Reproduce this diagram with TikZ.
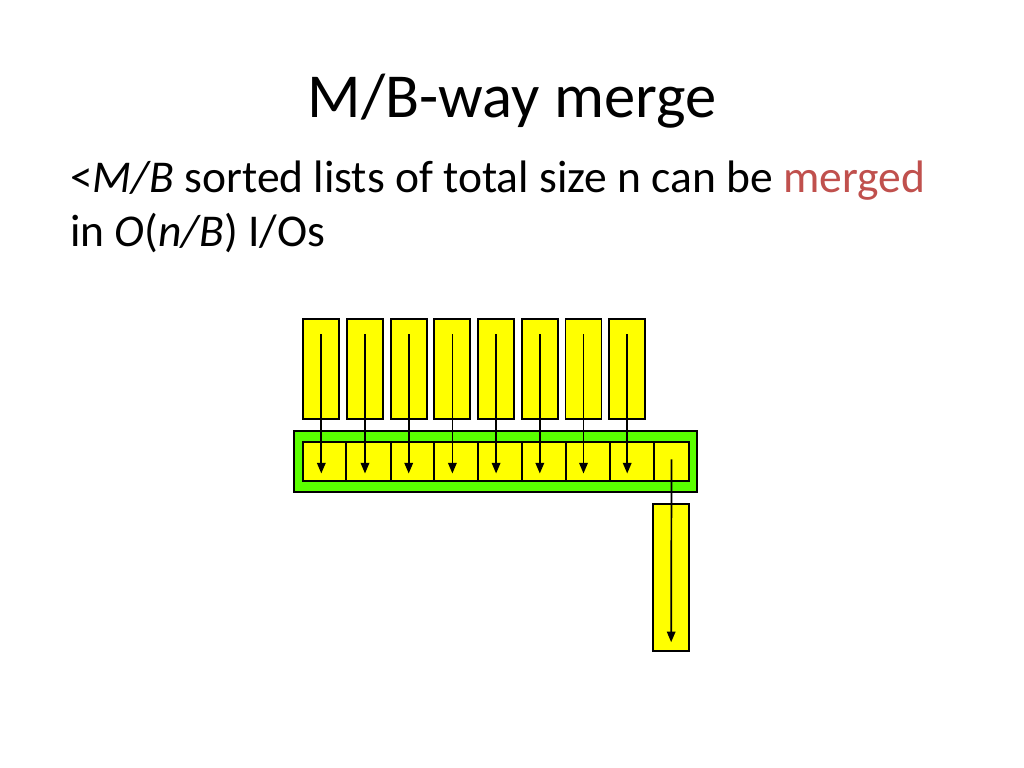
\documentclass[tikz,border=0pt]{standalone}
\usepackage{fontspec}
\setmainfont{Carlito}
\usetikzlibrary{arrows.meta,calc,fit}
\definecolor{boxyellow}{RGB}{255,255,0}
\definecolor{boxgreen}{RGB}{90,255,0}
\definecolor{accentred}{RGB}{192,80,77}
\begin{document}
\begin{tikzpicture}[x=0.703125pt,y=-0.703125pt,
  ybox/.style={draw=black,fill=boxyellow,line width=1.3pt,inner sep=0pt,outer sep=0pt,rectangle},
  gbox/.style={draw=black,fill=boxgreen,line width=1.3pt,inner sep=0pt,outer sep=0pt,rectangle},
  arr/.style={draw=black,line width=1.2pt,-{Triangle[length=7.5pt,width=6pt]}}]
\useasboundingbox[fill=white] (0,0) rectangle (1024,768);
\node[anchor=base,font=\fontsize{44}{53}\selectfont] (title) at (512,118) {M/B-way merge};
\node[anchor=base west,inner sep=0pt,font=\fontsize{32}{38}\selectfont] (l1) at (70,193) {<\textit{M/B} sorted lists of total size n can be \textcolor{accentred}{merged}};
\node[anchor=base west,inner sep=0pt,font=\fontsize{32}{38}\selectfont] (l2) at (70,247) {in \textit{O}(\textit{n/B}) I/Os};
% green buffer
\node[gbox,fit={(294,431) (697.3,491.7)}] (g) {};
% cells
\foreach \a/\b [count=\i] in {302.7/346,346/390.7,390.7/434.3,434.3/478.3,478.3/522.3,522.3/566,566/610,610/654,654/689}{
  \node[ybox,fit={(\a,442.3) (\b,481)}] (c\i) {};
}
% input lists
\foreach \i in {1,...,8}{
  \pgfmathsetmacro{\xl}{303.3+(\i-1)*43.7}
  \pgfmathsetmacro{\xr}{\xl+36}
  \node[ybox,fit={(\xl,319.3) (\xr,418.7)}] (t\i) {};
}
% output list
\node[ybox,fit={(653.3,504.3) (689,650.7)}] (out) {};
% arrows
\foreach \i in {1,...,8}{
  \draw[arr] ($(t\i.north)+(0,15)$) -- ($(t\i.north |- c\i.south)+(0,-7.5)$);
}
\draw[arr] ($(c9.north)+(0,17)$) -- ($(out.south)+(0,-8.5)$);
\end{tikzpicture}
\end{document}
